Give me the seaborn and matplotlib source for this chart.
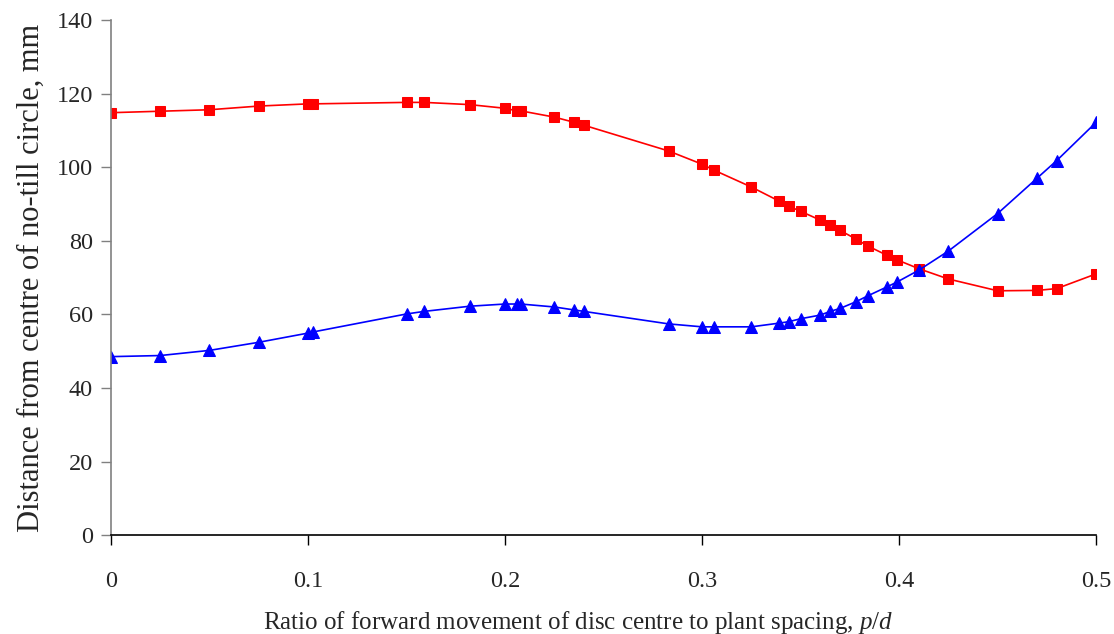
import matplotlib
matplotlib.use("Agg")
import matplotlib.pyplot as plt
import seaborn as sns
import pandas as pd

x_vals = [0, 0.025, 0.05, 0.075, 0.1, 0.1025, 0.15, 0.159, 0.182, 0.2, 0.206, 0.208,
          0.225, 0.235, 0.24, 0.283, 0.3, 0.306, 0.325, 0.339, 0.344, 0.35, 0.36, 0.365,
          0.37, 0.378, 0.384, 0.394, 0.399, 0.41, 0.425, 0.45, 0.47, 0.48, 0.5]
red_vals = [114.8, 115.2, 115.6, 116.6, 117.2, 117.2, 117.6, 117.6, 117.0, 116.0, 115.3, 115.3,
            113.6, 112.2, 111.4, 104.4, 100.8, 99.2, 94.6, 90.8, 89.4, 88.0, 85.6, 84.2,
            82.8, 80.5, 78.6, 76.0, 74.8, 72.4, 69.6, 66.4, 66.5, 67.0, 71.0]
blue_vals = [48.5, 48.8, 50.2, 52.4, 54.9, 55.2, 60.1, 60.8, 62.2, 62.8, 62.8, 62.8,
             62.0, 61.2, 60.8, 57.4, 56.6, 56.6, 56.6, 57.6, 58.0, 58.8, 59.8, 60.8,
             61.6, 63.4, 65.0, 67.5, 68.8, 72.0, 77.2, 87.4, 97.0, 101.8, 112.2]

x_ticks = [0, 0.1, 0.2, 0.3, 0.4, 0.5]
x_ticklabels = ["0", "0.1", "0.2", "0.3", "0.4", "0.5"]
y_ticks = [0, 20, 40, 60, 80, 100, 120, 140]

sns.set_style("white")
plt.rcParams['font.family'] = ['Liberation Serif', 'DejaVu Serif']
plt.rcParams['mathtext.fontset'] = 'custom'
plt.rcParams['mathtext.it'] = 'Liberation Serif:italic'
plt.rcParams['mathtext.rm'] = 'Liberation Serif'

df = pd.DataFrame({"x": x_vals, "red": red_vals, "blue": blue_vals})

fig = plt.figure(figsize=(11.14, 6.34), dpi=100)
ax = fig.add_axes([0.0996, 0.156, 0.8844, 0.8125])

sns.lineplot(data=df, x="x", y="red", ax=ax, color="#ff0000", marker="s", markersize=7,
             markeredgecolor="#ff0000", linewidth=1.2, sort=True)
sns.lineplot(data=df, x="x", y="blue", ax=ax, color="#0000ff", marker="^", markersize=8,
             markeredgecolor="#0000ff", linewidth=1.2, sort=True)

ax.set_xlim(0, 0.5)
ax.set_ylim(0, 140)
ax.set_xticks(x_ticks)
ax.set_xticklabels(x_ticklabels)
ax.set_yticks(y_ticks)
ax.tick_params(axis="x", direction="out", length=7, width=1, color="#000000",
               labelsize=17.5, pad=19, bottom=True)
ax.tick_params(axis="y", direction="out", length=7, width=1, color="#808080",
               labelsize=17.5, pad=6, left=True)
for s in ["top", "right"]:
    ax.spines[s].set_visible(False)
ax.spines["left"].set_color("#808080")
ax.spines["left"].set_linewidth(1.2)
ax.spines["bottom"].set_color("#000000")
ax.spines["bottom"].set_linewidth(1.2)

ax.set_xlabel("Ratio of forward movement of disc centre to plant spacing, $\\mathit{p/d}$",
              fontsize=18, labelpad=12)
ax.xaxis.label.set_x(0.474)
ax.set_ylabel("Distance from centre of no-till circle, mm", fontsize=22, labelpad=8)

fig.savefig("out.png", dpi=100)
